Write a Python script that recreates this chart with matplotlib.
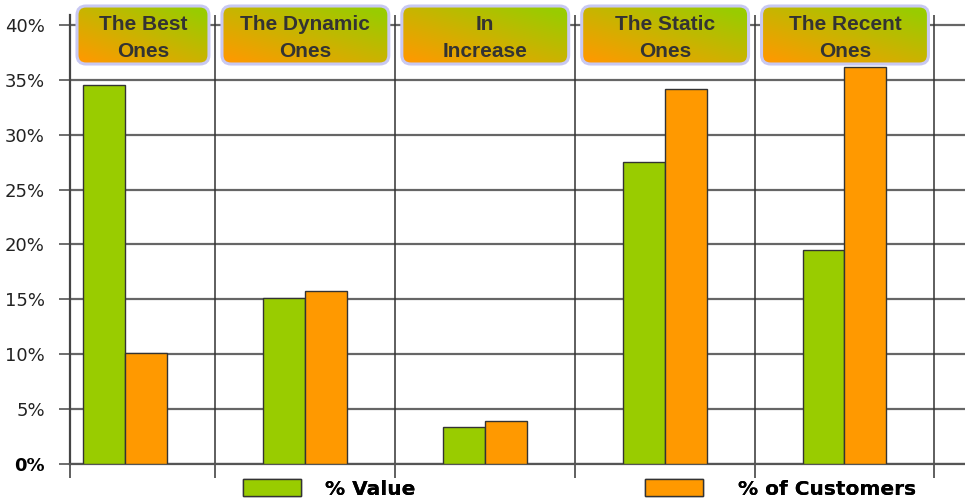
import numpy as np
import matplotlib
matplotlib.use("Agg")
import matplotlib.pyplot as plt
from matplotlib.patches import FancyBboxPatch, Patch

# data
categories = ["The Best\nOnes", "The Dynamic\nOnes", "In\nIncrease", "The Static\nOnes", "The Recent\nOnes"]
pct_value = [34.5, 15.1, 3.4, 27.5, 19.5]
pct_customers = [10.1, 15.8, 3.9, 34.2, 36.2]
series_names = ["% Value", "% of Customers"]
y_ticks = [0, 5, 10, 15, 20, 25, 30, 35, 40]

GREEN = "#99CC00"
ORANGE = "#FF9900"
W, H = 965, 503

fig = plt.figure(figsize=(W / 100, H / 100), dpi=100)
ax = fig.add_axes([70 / W, 39 / H, (W - 70) / W, (464 - 15) / H])

x = np.arange(len(categories))
bw = 0.233
ax.bar(x - bw / 2, pct_value, bw, color=GREEN, edgecolor="#333333", linewidth=1, zorder=3)
ax.bar(x + bw / 2, pct_customers, bw, color=ORANGE, edgecolor="#333333", linewidth=1, zorder=3)

xl = (-0.306, 4.67)
ax.set_xlim(*xl)
ax.set_ylim(0, 40.9)

# y axis
ax.set_yticks(y_ticks)
ax.set_yticklabels([f"{v}%" for v in y_ticks], fontsize=13, color="#222222",
                   family="DejaVu Sans")
lbl0 = ax.get_yticklabels()[0]
lbl0.set_fontweight("bold")
lbl0.set_color("black")
ax.tick_params(axis="y", length=8, width=1.2, color="#555555", pad=10)
ax.yaxis.grid(True, color="#666666", linewidth=1.6, zorder=1)

# category boundaries
bounds = [xl[0]] + [i + 0.5 for i in range(len(categories))]
ax.set_xticks(bounds)
ax.set_xticklabels([])
ax.tick_params(axis="x", length=10, width=1.2, color="#444444")
for b in bounds[1:]:
    ax.axvline(b, color="#333333", linewidth=1.1, zorder=2)

for s in ["top", "right"]:
    ax.spines[s].set_visible(False)
ax.spines["left"].set_color("#444444")
ax.spines["left"].set_linewidth(1.6)
ax.spines["bottom"].set_color("#555555")
ax.spines["bottom"].set_linewidth(1.6)

# header boxes with gradient, in pixel coordinates
ov = fig.add_axes([0, 0, 1, 1], zorder=5)
ov.set_xlim(0, W)
ov.set_ylim(H, 0)
ov.axis("off")

fig.canvas.draw()
to_px = lambda xv: ax.transData.transform((xv, 0))[0]
c_orange = np.array([1.0, 0.60, 0.0])
c_green = np.array([0.60, 0.80, 0.0])
gh, gw = 60, 170
gy, gx = np.mgrid[0:gh, 0:gw]
t = np.clip((gx / gw) * 0.55 + (1 - gy / gh) * 0.6 - 0.05, 0, 1)
grad = c_orange + (c_green - c_orange) * t[..., None]

y0, y1 = 6, 64
for i, name in enumerate(categories):
    x0 = to_px(bounds[i]) + 7
    x1 = to_px(bounds[i + 1]) - 6
    box = FancyBboxPatch((x0, y0), x1 - x0, y1 - y0,
                         boxstyle="round,pad=0,rounding_size=9",
                         facecolor="none", edgecolor="#C8C8F2", linewidth=2.2, zorder=7)
    ov.add_patch(box)
    im = ov.imshow(grad, extent=(x0, x1, y1, y0), origin="upper", aspect="auto", zorder=6)
    im.set_clip_path(box)
    ov.text((x0 + x1) / 2, (y0 + y1) / 2 + 3, name, ha="center", va="center",
            fontsize=15, fontweight="bold", color="#333333", family="Liberation Sans",
            linespacing=1.5, zorder=8)
ov.set_xlim(0, W)
ov.set_ylim(H, 0)

# legend, one entry at each spot
handles = [Patch(facecolor=GREEN, edgecolor="#333333"),
           Patch(facecolor=ORANGE, edgecolor="#333333")]
leg_x = [243, 645]
leg_pad = [1.15, 1.7]
for h, name, lx, pad in zip(handles, series_names, leg_x, leg_pad):
    lg = fig.legend([h], [name], loc="center left",
                    bbox_to_anchor=(lx / W, 1 - 489 / H), frameon=False,
                    prop={"weight": "bold", "size": 14.5}, handlelength=2.9,
                    handleheight=0.85, handletextpad=pad, borderpad=0, borderaxespad=0)
    fig.add_artist(lg)

fig.savefig("out.png", dpi=100)
